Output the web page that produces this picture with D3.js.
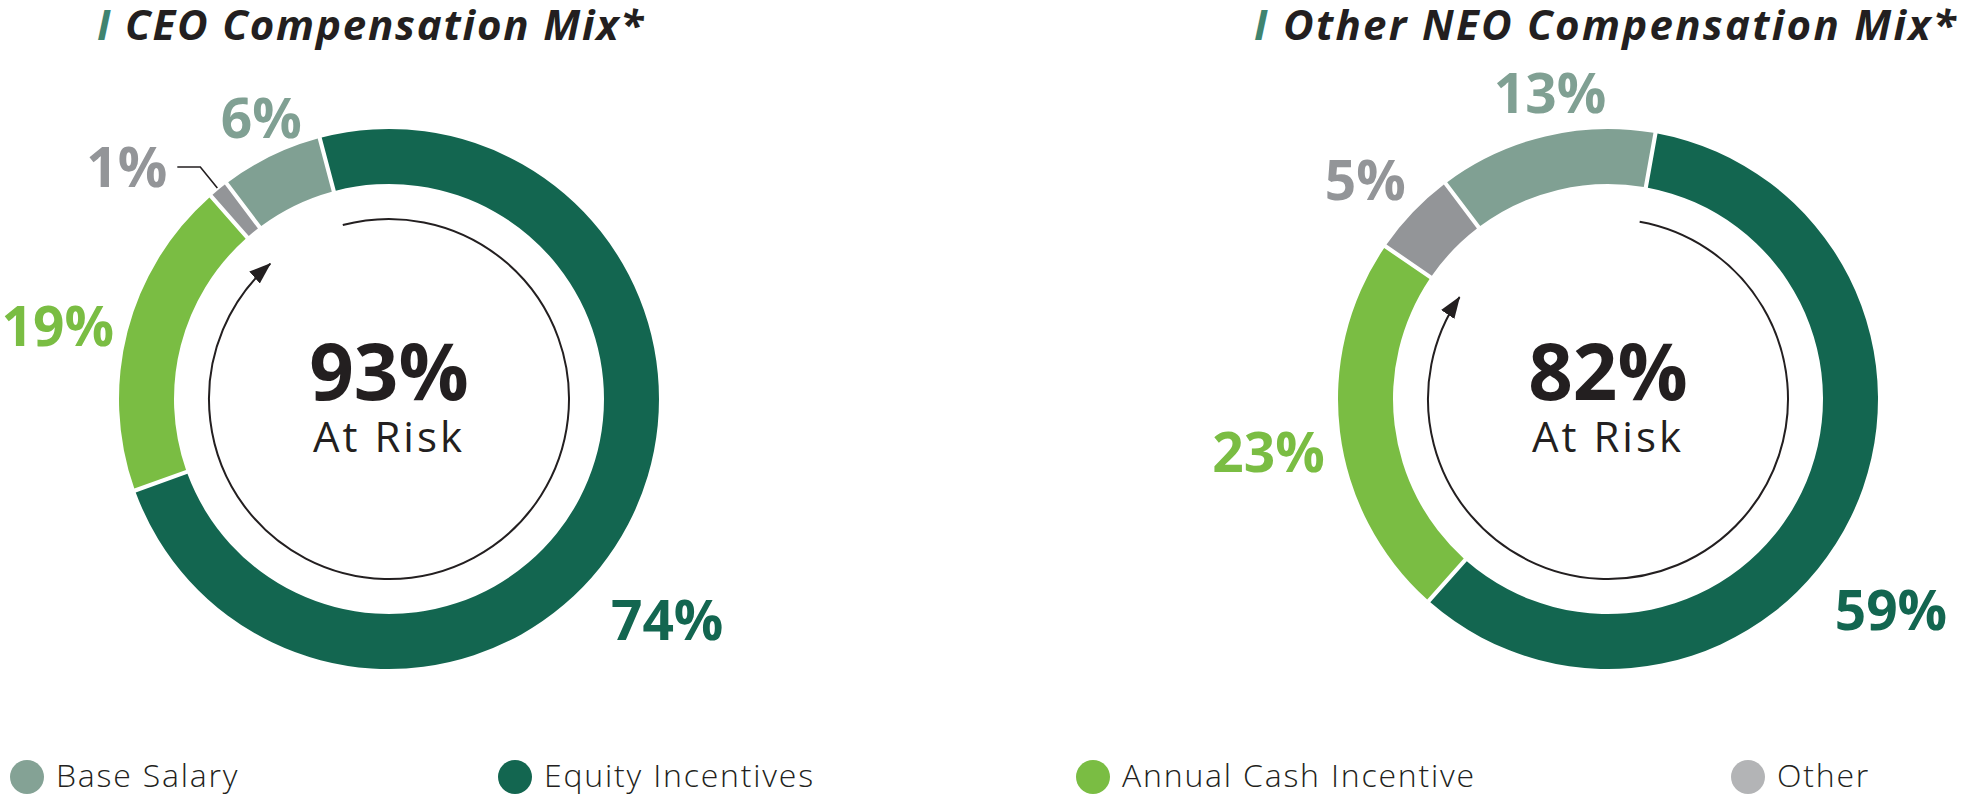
<!DOCTYPE html>
<html>
<head>
<meta charset="utf-8">
<script src="https://cdn.jsdelivr.net/npm/d3@7"></script>
<style>
  html, body { margin: 0; padding: 0; background: #fff; }
  svg { display: block; }
</style>
</head>
<body>
<svg id="chart" width="1964" height="802"></svg>
<script>
// Données
const categories = ['Base Salary', 'Equity Incentives', 'Annual Cash Incentive', 'Other']
const ceoValues = [6, 74, 19, 1]
const neoValues = [13, 59, 23, 5]
const atRiskValues = [93, 82]
const chartTitles = ['CEO Compensation Mix*', 'Other NEO Compensation Mix*']
const atRiskLabel = 'At Risk'

// Styles et mise en page
const WIDTH = 1964
const HEIGHT = 802
const POLICE = "'Open Sans', 'Noto Sans', sans-serif"
const TEXTE = '#231f20'
const COULEURS_ANNEAU = { 'Base Salary': '#80a093', 'Equity Incentives': '#136650', 'Annual Cash Incentive': '#7abd43', 'Other': '#939598' }
const COULEURS_LEGENDE = { 'Base Salary': '#84a295', 'Equity Incentives': '#136650', 'Annual Cash Incentive': '#7abd43', 'Other': '#b3b4b6' }
const CENTRES_X = [389, 1608]
const CENTRE_Y = 399
const R_EXT = 270
const R_INT = 215
const R_FLECHE = 180
const R_LABEL = 340
const DECALAGE_LABEL = { 'Base Salary': [21, 25], 'Equity Incentives': [-23, 63], 'Annual Cash Incentive': [-2, 12], 'Other': [3, 16] }
const TITRES_X = [97, 1254]
const TITRES_FIN = [645, 1958]
const LEGENDE_X = [27, 515, 1093, 1748]
const LEGENDE_Y = 777

const svg = d3.select('#chart')
const deg = Math.PI / 180

// Pointe de flèche
svg.append('defs').append('marker').attr('id', 'pointe')
    .attr('markerUnits', 'userSpaceOnUse').attr('viewBox', '0 -9 22 18')
    .attr('markerWidth', 22).attr('markerHeight', 18).attr('refX', 21).attr('refY', 0)
    .attr('orient', 'auto')
    .append('path').attr('d', 'M0,-8L22,0L0,8Z').attr('fill', TEXTE)

const pie = d3.pie().sort(null).value(d => d.value)
    .startAngle(-37 * deg).endAngle(323 * deg).padAngle(0.012)
const arc = d3.arc().innerRadius(R_INT).outerRadius(R_EXT)
const arcLabel = d3.arc().innerRadius(R_LABEL).outerRadius(R_LABEL)

function placeDonut(values, index) {
    const data = categories.map((c, i) => ({ cat: c, value: values[i] }))
    const arcs = pie(data)
    const g = svg.append('g').attr('class', 'donut donut' + index)
        .attr('transform', 'translate(' + CENTRES_X[index] + ',' + CENTRE_Y + ')')

    //Tranches
    g.selectAll('path.tranche').data(arcs).join('path').attr('class', 'tranche')
        .attr('d', arc).attr('fill', d => COULEURS_ANNEAU[d.data.cat])

    //Flèche "at risk" : du début de Equity à la fin de Annual Cash
    const debut = arcs[1].startAngle
    const fin = arcs[2].endAngle
    const p = d3.path()
    p.arc(0, 0, R_FLECHE, debut - Math.PI / 2, fin - Math.PI / 2, false)
    g.append('path').attr('d', p.toString()).attr('fill', 'none')
        .attr('stroke', TEXTE).attr('stroke-width', 2).attr('marker-end', 'url(#pointe)')

    //Texte central
    g.append('text').text(atRiskValues[index] + '%').attr('x', 0).attr('y', 1)
        .attr('text-anchor', 'middle').attr('font-family', POLICE).attr('font-weight', 700)
        .style('font-size', '78px').attr('fill', TEXTE)
    g.append('text').text(atRiskLabel).attr('x', 0).attr('y', 53)
        .attr('text-anchor', 'middle').attr('font-family', POLICE).attr('font-weight', 400)
        .style('font-size', '42px').style('letter-spacing', '3px').attr('fill', TEXTE)

    //Étiquettes
    arcs.forEach(d => {
        const couleur = COULEURS_ANNEAU[d.data.cat]
        if (d.data.value < 3) {
            //Petite tranche : ligne de rappel
            const a = (d.startAngle + d.endAngle) / 2
            const p0 = [Math.sin(a) * (R_EXT + 2), -Math.cos(a) * (R_EXT + 2)]
            const p1 = [Math.sin(a) * (R_EXT + 29), -Math.cos(a) * (R_EXT + 29)]
            const p2 = [p1[0] - 23, p1[1]]
            g.append('path').attr('d', d3.line()([p0, p1, p2])).attr('fill', 'none')
                .attr('stroke', TEXTE).attr('stroke-width', 1.6)
            g.append('text').text(d.data.value + '%').attr('x', p2[0] - 10).attr('y', p2[1])
                .attr('dy', '0.36em').attr('text-anchor', 'end').attr('font-family', POLICE)
                .attr('font-weight', 700).style('font-size', '55px').attr('fill', couleur)
        } else {
            const c = arcLabel.centroid(d)
            const n = DECALAGE_LABEL[d.data.cat]
            g.append('text').text(d.data.value + '%').attr('x', c[0] + n[0]).attr('y', c[1] + n[1])
                .attr('dy', '0.36em').attr('text-anchor', 'middle').attr('font-family', POLICE)
                .attr('font-weight', 700).style('font-size', '55px').attr('fill', couleur)
        }
    })
}

//Titres (espacement ajusté pour tenir la largeur du titre d'origine)
function placeTitre(titre, index) {
    const t = svg.append('text').attr('x', TITRES_X[index]).attr('y', 40)
        .attr('font-family', POLICE).attr('font-weight', 700).attr('font-style', 'italic')
        .style('font-size', '42px').attr('fill', TEXTE)
    t.append('tspan').text('I').attr('fill', '#3f8470')
    t.append('tspan').text(' ' + titre)
    const longueur = t.node().getComputedTextLength()
    const nb = titre.length + 2
    const espace = Math.max(0, (TITRES_FIN[index] - TITRES_X[index] - longueur) / nb)
    t.style('letter-spacing', espace + 'px')
}

placeDonut(ceoValues, 0)
placeDonut(neoValues, 1)
chartTitles.forEach(placeTitre)

//Légende
const legende = svg.append('g').attr('class', 'legende')
categories.forEach((c, i) => {
    legende.append('circle').attr('cx', LEGENDE_X[i]).attr('cy', LEGENDE_Y).attr('r', 17)
        .attr('fill', COULEURS_LEGENDE[c])
    legende.append('text').text(c).attr('x', LEGENDE_X[i] + 29).attr('y', LEGENDE_Y + 10)
        .attr('font-family', POLICE).attr('font-weight', 300).style('font-size', '32px')
        .style('letter-spacing', '1.8px').attr('fill', TEXTE)
})
</script>
</body>
</html>
